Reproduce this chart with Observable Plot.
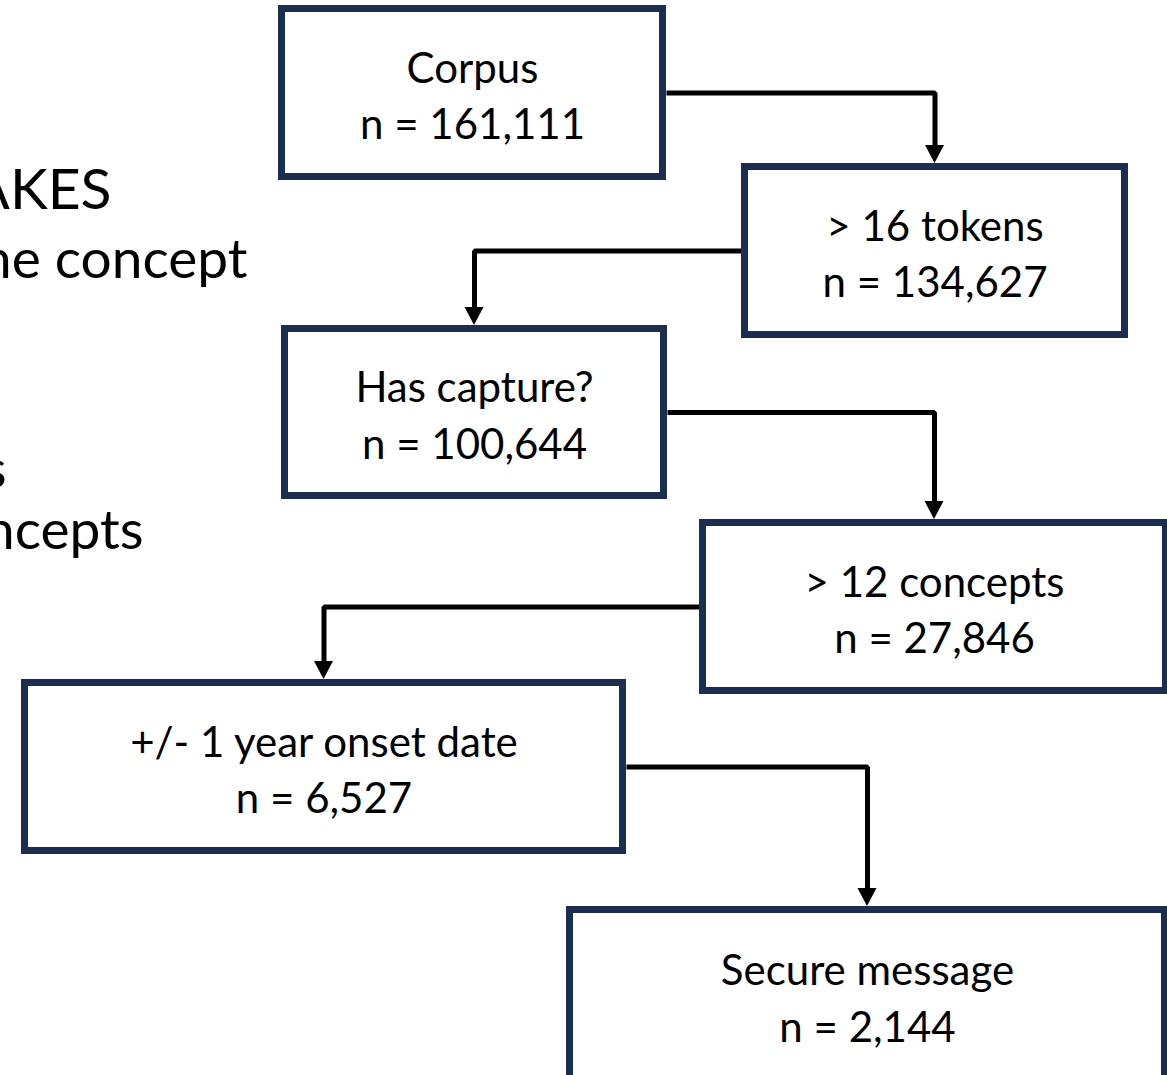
<!DOCTYPE html>
<html>
<head>
<meta charset="utf-8">
<script src="https://cdn.jsdelivr.net/npm/d3@7"></script>
<script src="https://cdn.jsdelivr.net/npm/@observablehq/plot@0.6"></script>
<style>
  html, body { margin: 0; padding: 0; background: #fff; overflow: hidden; }
  #chart svg { display: block; }
</style>
</head>
<body>
<div id="chart"></div>
<script>
// ---- data ----
const stepLabels = ["Corpus", "> 16 tokens", "Has capture?", "> 12 concepts", "+/- 1 year onset date", "Secure message"];
const stepCounts = [161111, 134627, 100644, 27846, 6527, 2144];
const sideTexts = ["AKES", "ne concept", "s", "ncepts"];

// ---- layout (outer box edges, px) ----
const boxLeft   = [278, 741, 281, 699, 21, 566];
const boxRight  = [666, 1128, 667, 1169, 626, 1168];
const boxTop    = [5, 163, 325, 519, 679, 906];
const boxBottom = [180, 338, 499, 694, 854, 1084];
const sideX = [111, 247, 6, 143];
const sideY = [190, 260, 470, 531];
const sideSize = [57, 55, 55, 55];

const W = 1167, H = 1075;
const SW = 7;          // box stroke width
const headLen = 18, headHalf = 9.5;
const fmt = d3.format(",");

const boxes = stepLabels.map((label, i) => ({
  label: `${label}\nn = ${fmt(stepCounts[i])}`,
  x1: boxLeft[i] + SW / 2, x2: boxRight[i] - SW / 2,
  y1: boxTop[i] + SW / 2, y2: boxBottom[i] - SW / 2,
  cx: (boxLeft[i] + boxRight[i]) / 2,
  cy: (boxTop[i] + boxBottom[i]) / 2
}));

// connectors: from a side of box i to top-centre of box i+1
const connectors = [];
const heads = [];
for (let i = 0; i < boxes.length - 1; i++) {
  const a = boxes[i], b = boxes[i + 1];
  const fromRight = b.cx > a.cx;
  const sx = fromRight ? boxRight[i] : boxLeft[i];
  const tipY = boxTop[i + 1];
  connectors.push({id: i, x: sx, y: a.cy});
  connectors.push({id: i, x: b.cx, y: a.cy});
  connectors.push({id: i, x: b.cx, y: tipY - headLen + 1});
  heads.push({id: i, x: b.cx - headHalf, y1: tipY - headLen, y2: tipY - headLen});
  heads.push({id: i, x: b.cx, y1: tipY - headLen, y2: tipY});
  heads.push({id: i, x: b.cx + headHalf, y1: tipY - headLen, y2: tipY - headLen});
}

const side = sideTexts.map((t, i) => ({t, x: sideX[i], y: sideY[i], s: sideSize[i]}));

const chart = Plot.plot({
  width: W,
  height: H,
  margin: 0,
  x: {domain: [0, W], range: [0, W], axis: null},
  y: {domain: [0, H], range: [0, H], axis: null},
  style: {background: "#fff", overflow: "hidden"},
  marks: [
    Plot.text(side, {
      x: "x", y: "y", text: "t", fontSize: 55, textAnchor: "end",
      fontFamily: "Lato", fill: "#000", lineAnchor: "middle"
    }),
    Plot.line(connectors, {x: "x", y: "y", z: "id", stroke: "#000", strokeWidth: 5, strokeLinejoin: "miter", strokeLinecap: "butt", curve: "linear"}),
    Plot.areaY(heads, {x: "x", y1: "y1", y2: "y2", z: "id", fill: "#000", curve: "linear"}),
    Plot.rect(boxes, {x1: "x1", x2: "x2", y1: "y1", y2: "y2", fill: "#fff", stroke: "#1c2d52", strokeWidth: SW}),
    Plot.text(boxes, {
      x: "cx", y: "cy", text: "label", fontSize: 42, lineHeight: 1.34,
      fontFamily: "Lato", fill: "#000", lineAnchor: "middle"
    })
  ]
});

// per-datum font sizes for the side text
chart.querySelectorAll("g[aria-label='text']")[0]?.querySelectorAll("text").forEach((el, i) => {
  el.setAttribute("font-size", sideSize[i]);
});

document.getElementById("chart").appendChild(chart);
</script>
</body>
</html>
